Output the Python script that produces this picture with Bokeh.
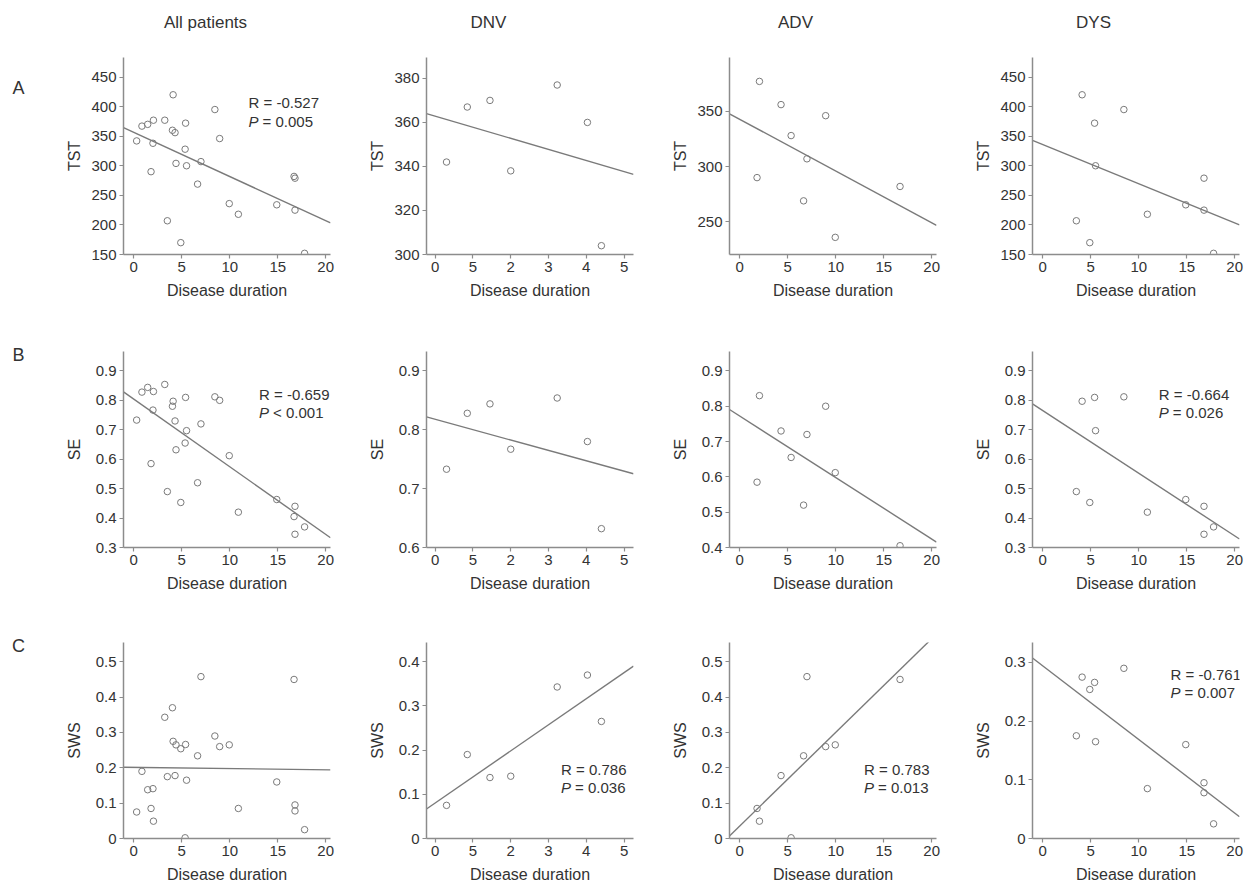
import numpy as np
from bokeh.plotting import figure
from bokeh.layouts import row, column
from bokeh.models import Range1d, Label, FixedTicker
from bokeh.embed import file_html
from bokeh.resources import INLINE
from bokeh.core.properties import value

# ---------------- data ----------------
col_titles = ["All patients", "DNV", "ADV", "DYS"]
row_letters = ["A", "B", "C"]
measure_names = ["TST", "SE", "SWS"]
x_title = "Disease duration"

dnv_duration = [0.3, 0.85, 1.45, 2.0, 3.23, 4.03, 4.4]
dnv_tst = [342, 367, 370, 338, 377, 360, 304]
dnv_se = [0.733, 0.828, 0.844, 0.767, 0.854, 0.780, 0.632]
dnv_sws = [0.075, 0.190, 0.138, 0.141, 0.343, 0.370, 0.265]

adv_duration = [1.8, 2.05, 4.3, 5.35, 6.65, 7.0, 8.95, 9.95, 16.7]
adv_tst = [290, 377, 356, 328, 269, 307, 346, 236, 282]
adv_se = [0.585, 0.830, 0.730, 0.655, 0.520, 0.720, 0.800, 0.612, 0.405]
adv_sws = [0.085, 0.049, 0.178, 0.002, 0.234, 0.458, 0.260, 0.265, 0.450]

dys_duration = [3.5, 4.1, 5.4, 5.5, 4.9, 8.45, 10.9, 14.9, 16.8, 16.8, 17.8]
dys_tst = [207, 420, 372, 300, 170, 395, 218, 234, 225, 279, 152]
dys_se = [0.490, 0.797, 0.810, 0.697, 0.453, 0.812, 0.420, 0.463, 0.440, 0.345, 0.370]
dys_sws = [0.175, 0.275, 0.266, 0.165, 0.254, 0.290, 0.085, 0.160, 0.095, 0.078, 0.025]

all_duration = dnv_duration + adv_duration + dys_duration
all_tst = dnv_tst + adv_tst + dys_tst
all_se = dnv_se + adv_se + dys_se
all_sws = dnv_sws + adv_sws + dys_sws

durations = [all_duration, dnv_duration, adv_duration, dys_duration]
values = [
    [all_tst, dnv_tst, adv_tst, dys_tst],
    [all_se, dnv_se, adv_se, dys_se],
    [all_sws, dnv_sws, adv_sws, dys_sws],
]

x_ticks_wide = [0, 5, 10, 15, 20]
x_ticks_dnv = [0, 1, 2, 3, 4, 5]
x_tick_labels_dnv = ["0", "5", "2", "3", "4", "5"]

y_ticks = [
    [[150, 200, 250, 300, 350, 400, 450], [300, 320, 340, 360, 380], [250, 300, 350],
     [150, 200, 250, 300, 350, 400, 450]],
    [[0.3, 0.4, 0.5, 0.6, 0.7, 0.8, 0.9], [0.6, 0.7, 0.8, 0.9], [0.4, 0.5, 0.6, 0.7, 0.8, 0.9],
     [0.3, 0.4, 0.5, 0.6, 0.7, 0.8, 0.9]],
    [[0, 0.1, 0.2, 0.3, 0.4, 0.5], [0, 0.1, 0.2, 0.3, 0.4], [0, 0.1, 0.2, 0.3, 0.4, 0.5],
     [0, 0.1, 0.2, 0.3]],
]
y_tick_labels = [
    [["150", "200", "250", "300", "350", "400", "450"], ["300", "320", "340", "360", "380"],
     ["250", "300", "350"], ["150", "200", "250", "300", "350", "400", "450"]],
    [["0.3", "0.4", "0.5", "0.6", "0.7", "0.8", "0.9"], ["0.6", "0.7", "0.8", "0.9"],
     ["0.4", "0.5", "0.6", "0.7", "0.8", "0.9"], ["0.3", "0.4", "0.5", "0.6", "0.7", "0.8", "0.9"]],
    [["0", "0.1", "0.2", "0.3", "0.4", "0.5"], ["0", "0.1", "0.2", "0.3", "0.4"],
     ["0", "0.1", "0.2", "0.3", "0.4", "0.5"], ["0", "0.1", "0.2", "0.3"]],
]

# correlation statistics shown in panels: (row, col, R text, P operator + value)
stats = [
    (0, 0, "R = -0.527", "= 0.005"),
    (1, 0, "R = -0.659", "< 0.001"),
    (1, 3, "R = -0.664", "= 0.026"),
    (2, 1, "R = 0.786", "= 0.036"),
    (2, 2, "R = 0.783", "= 0.013"),
    (2, 3, "R = -0.761", "= 0.007"),
]

# ---------------- layout / styling ----------------
FONT = "Liberation Sans"
TXT = "#333333"
AX = "#8c8c8c"
MK = "#7a7a7a"

x_ranges = [(-1.07, 20.5), (-0.23, 5.25), (-1.07, 20.5), (-1.07, 20.5)]
y_ranges = [
    [(150, 483), (300, 389.5), (220.5, 398.6), (150, 483)],
    [(0.3, 0.966), (0.6, 0.933), (0.4, 0.955), (0.3, 0.966)],
    [(0, 0.5546), (0, 0.4437), (0, 0.5546), (0, 0.334)],
]
frame_h = [197, 196, 196]
border_top = [10, 10, 10]
border_bottom = [87, 85, 40]
ylab_standoff = [5, 10, 10]

# annotation placement as fractions of the frame: (fx, fy_R, fy_P)
stat_pos = {
    (0, 0): (0.604, 0.774, 0.677),
    (1, 0): (0.655, 0.780, 0.689),
    (1, 3): (0.610, 0.780, 0.689),
    (2, 1): (0.650, 0.350, 0.259),
    (2, 2): (0.650, 0.350, 0.259),
    (2, 3): (0.667, 0.838, 0.746),
}


def make_panel(r, c):
    xr = x_ranges[c]
    yr = y_ranges[r][c]
    p = figure(frame_width=207, frame_height=frame_h[r],
               x_range=Range1d(*xr), y_range=Range1d(*yr),
               output_backend="svg", toolbar_location=None,
               min_border_left=88, min_border_right=8,
               min_border_top=border_top[r], min_border_bottom=border_bottom[r])
    p.grid.visible = False
    p.outline_line_color = None
    p.background_fill_color = "white"
    p.border_fill_color = "white"

    xs = durations[c]
    ys = values[r][c]
    p.scatter(xs, ys, marker="circle", size=6.5, fill_color=None,
              line_color=MK, line_width=1)

    slope, intercept = np.polyfit(np.array(xs, float), np.array(ys, float), 1)
    xl = np.array([xr[0], xr[1]])
    p.line(xl, intercept + slope * xl, line_color="#7a7a7a", line_width=1.4)

    for ax in (p.xaxis[0], p.yaxis[0]):
        ax.axis_line_color = AX
        ax.axis_line_width = 1.5
        ax.major_tick_line_color = AX
        ax.major_tick_line_width = 1.2
        ax.major_tick_out = 4
        ax.major_tick_in = 0
        ax.minor_tick_line_color = None
        ax.major_label_text_font = FONT
        ax.major_label_text_font_size = "15px"
        ax.major_label_text_color = TXT
        ax.axis_label_text_font = FONT
        ax.axis_label_text_font_size = "16px"
        ax.axis_label_text_font_style = "normal"
        ax.axis_label_text_color = TXT
        ax.major_label_standoff = 3

    if c == 1:
        p.xaxis.ticker = FixedTicker(ticks=x_ticks_dnv)
        p.xaxis.major_label_overrides = {t: s for t, s in zip(x_ticks_dnv, x_tick_labels_dnv)}
    else:
        p.xaxis.ticker = FixedTicker(ticks=x_ticks_wide)
    p.yaxis.ticker = FixedTicker(ticks=y_ticks[r][c])
    p.yaxis.major_label_overrides = {t: s for t, s in zip(y_ticks[r][c], y_tick_labels[r][c])}
    p.xaxis.axis_label = x_title
    p.xaxis.axis_label_standoff = 7
    p.yaxis.axis_label = measure_names[r]
    p.yaxis.axis_label_standoff = ylab_standoff[r]

    for (sr, sc, rtxt, ptxt) in stats:
        if sr == r and sc == c:
            fx, fyr, fyp = stat_pos[(r, c)]
            xx = xr[0] + fx * (xr[1] - xr[0])
            yR = yr[0] + fyr * (yr[1] - yr[0])
            yP = yr[0] + fyp * (yr[1] - yr[0])
            common = dict(text_font=FONT, text_font_size="15px", text_color=TXT,
                          text_baseline="middle", text_align="left")
            p.add_layout(Label(x=xx, y=yR, text=rtxt, **common))
            p.add_layout(Label(x=xx, y=yP, text="P", text_font_style="italic", **common))
            p.add_layout(Label(x=xx, y=yP, x_offset=14, text=ptxt, **common))
    return p


rows = []
for r in range(3):
    rows.append(row([make_panel(r, c) for c in range(4)], spacing=0))
grid = column(rows, spacing=0)

# header with column titles
HW, HH = 1247, 47
header = figure(width=HW, height=HH, x_range=Range1d(0, HW), y_range=Range1d(HH, 0),
                x_axis_type=None, y_axis_type=None, output_backend="svg",
                toolbar_location=None, min_border=0)
header.grid.visible = False
header.outline_line_color = None
header.text(x=[205, 488, 795, 1093], y=[22, 22, 22, 22], text=col_titles,
            text_align="center", text_baseline="middle",
            text_font=value(FONT), text_font_size="17px", text_color=TXT)

# left strip with row letters
LW, LH = 35, 620
left = figure(width=LW, height=LH, x_range=Range1d(0, LW), y_range=Range1d(LH, 0),
              x_axis_type=None, y_axis_type=None, output_backend="svg",
              toolbar_location=None, min_border=0)
left.grid.visible = False
left.outline_line_color = None
left.text(x=[18, 18, 18], y=[40, 307, 598], text=row_letters,
          text_align="center", text_baseline="middle",
          text_font=value(FONT), text_font_size="18px", text_color=TXT)

page = column([header, row([left, grid], spacing=0)], spacing=0)

open("out.html", "w").write(file_html(page, INLINE))
